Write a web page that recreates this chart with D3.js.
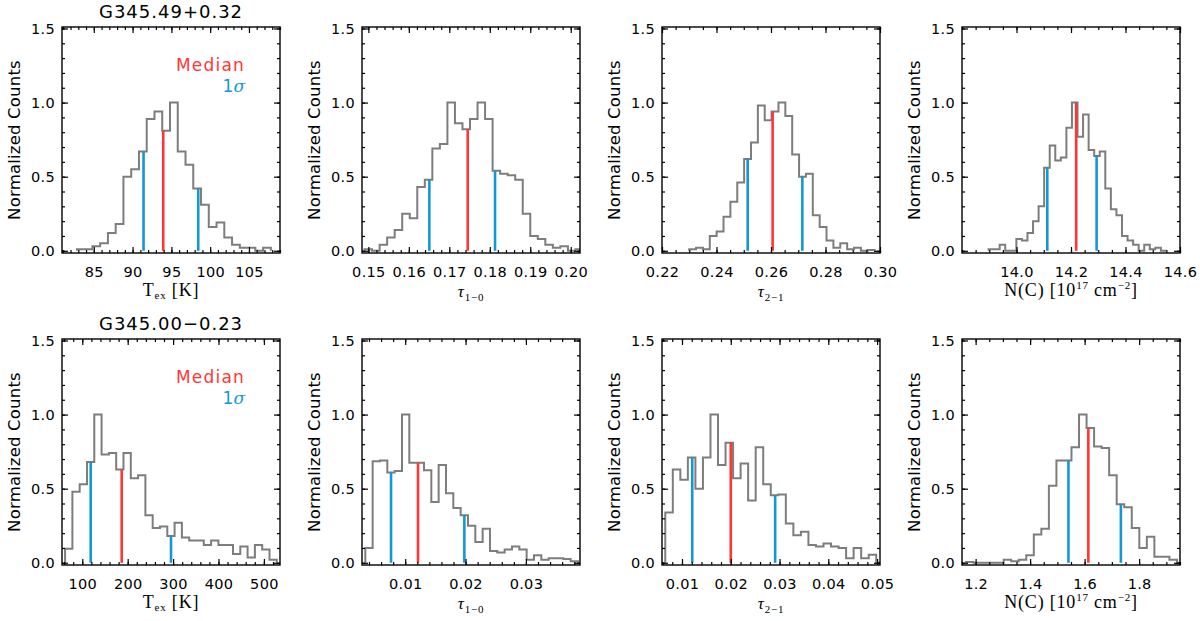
<!DOCTYPE html>
<html>
<head>
<meta charset="utf-8">
<script src="https://cdn.jsdelivr.net/npm/d3@7"></script>
<style>
  body { margin: 0; background: #fff; }
  svg { display: block; }
  .tick text { font-family: "DejaVu Sans", sans-serif; fill: #000; }
  .tick line { stroke: #000; stroke-width: 1.2; }
  .domain { display: none; }
</style>
</head>
<body>
<div id="chart"></div>
<script>
// sources (rows) and parameters (columns)
var sourceNames = ["G345.49+0.32", "G345.00\u22120.23"];

// histogram bins: first edge and width of each panel, rows by source
var binStart = [[82.82, 0.14906, 0.22998, 13.8975], [62.1, 0.00339, 0.00657, 1.1647]];
var binWidth = [[1.0, 0.001861, 0.00252, 0.0204], [16.08, 0.001215, 0.001545, 0.02765]];

// normalized counts
var countsTexA = [0.01, 0.01, 0.03, 0.05, 0.12, 0.18, 0.50, 0.55, 0.67, 0.89, 0.94, 0.81, 1.0,
  0.67, 0.58, 0.42, 0.31, 0.16, 0.19, 0.09, 0.04, 0.02, 0.02, 0.0, 0.02];
var countsTau10A = [0.01, 0.0, 0.04, 0.09, 0.14, 0.25, 0.22, 0.43, 0.48, 0.69, 0.72, 1.0, 0.86,
  0.82, 0.89, 1.0, 0.89, 0.54, 0.52, 0.51, 0.48, 0.25, 0.10, 0.08, 0.04, 0.02, 0.03, 0.0, 0.01];
var countsTau21A = [0.01, 0.02, 0.01, 0.10, 0.13, 0.23, 0.33, 0.46, 0.62, 0.73, 0.98, 0.88, 0.94,
  1.0, 0.91, 0.65, 0.50, 0.52, 0.24, 0.16, 0.07, 0.02, 0.05, 0.01, 0.02, 0.0, 0.005];
var countsNCA = [0.01, 0.01, 0.04, 0.0, 0.0, 0.08, 0.07, 0.12, 0.20, 0.30, 0.56, 0.71, 0.61, 0.63,
  0.83, 1.0, 0.77, 0.92, 0.68, 0.64, 0.67, 0.42, 0.28, 0.24, 0.10, 0.07, 0.04, 0.0, 0.04, 0.01, 0.02, 0.0];
var countsTexB = [0.095, 0.48, 0.53, 0.68, 1.0, 0.73, 0.74, 0.63, 0.74, 0.57, 0.59, 0.32, 0.235,
  0.245, 0.18, 0.27, 0.17, 0.15, 0.15, 0.12, 0.15, 0.12, 0.12, 0.06, 0.11, 0.035, 0.12, 0.09, 0.02];
var countsTau10B = [0.10, 0.685, 0.69, 0.61, 0.62, 1.0, 0.675, 0.675, 0.625, 0.41, 0.66, 0.47, 0.37,
  0.32, 0.25, 0.14, 0.23, 0.08, 0.07, 0.09, 0.11, 0.09, 0.02, 0.05, 0.02, 0.03, 0.03, 0.025, 0.01];
var countsTau21B = [0.34, 0.63, 0.56, 0.71, 0.50, 0.71, 1.0, 0.66, 0.81, 0.57, 0.67, 0.42, 0.78,
  0.53, 0.455, 0.46, 0.265, 0.185, 0.21, 0.12, 0.11, 0.13, 0.11, 0.10, 0.03, 0.10, 0.03, 0.055, 0.0];
var countsNCB = [0.005, 0.0, 0.0, 0.0, 0.0, 0.02, 0.01, 0.02, 0.05, 0.19, 0.23, 0.52, 0.69, 0.69,
  0.78, 1.0, 0.91, 0.785, 0.775, 0.59, 0.395, 0.375, 0.235, 0.10, 0.175, 0.04, 0.04, 0.02, 0.0];
var counts = [[countsTexA, countsTau10A, countsTau21A, countsNCA],
  [countsTexB, countsTau10B, countsTau21B, countsNCB]];

// median and 1 sigma bounds
var medians = [[93.95, 0.17455, 0.2606, 14.219], [186.8, 0.01212, 0.0200, 1.6136]];
var sigmaLow = [[91.41, 0.16507, 0.25144, 14.113], [118.5, 0.00765, 0.0121, 1.5406]];
var sigmaHigh = [[98.46, 0.1813, 0.2715, 14.294], [295.4, 0.0198, 0.0291, 1.733]];

// x ranges and ticks
var xDomains = [[[80.9, 109.0], [0.14843, 0.20229], [0.22, 0.30], [13.8, 14.6]],
  [[55.3, 535.5], [0.00284, 0.03896], [0.0059, 0.0506], [1.15, 1.95]]];
var xTicksTop = [[85, 90, 95, 100, 105], [0.15, 0.16, 0.17, 0.18, 0.19, 0.20],
  [0.22, 0.24, 0.26, 0.28, 0.30], [14.0, 14.2, 14.4, 14.6]];
var xTicksBottom = [[100, 200, 300, 400, 500], [0.01, 0.02, 0.03],
  [0.01, 0.02, 0.03, 0.04, 0.05], [1.2, 1.4, 1.6, 1.8]];
var xTicks = [xTicksTop, xTicksBottom];
var xMinorSteps = [[1, 0.002, 0.005, 0.05], [20, 0.002, 0.002, 0.05]];
var xFormats = [["d", ".2f", ".2f", ".1f"], ["d", ".2f", ".2f", ".1f"]];
var yTicks = [0.0, 0.5, 1.0, 1.5];

var width = 1200, height = 621;
var plotW = 218, plotH = 226;
var left0 = 62, colStep = 300;
var rowTops = [27, 339];
var gray = "#7d7d7d", red = "#ff3636", blue = "#1398d4";

var svg = d3.select("#chart").append("svg")
    .attr("width", width)
    .attr("height", height);

var y = d3.scaleLinear().domain([-0.015, 1.51]).range([plotH, 0]);

var minorValues = function(domain, step) {
  var out = [];
  var k0 = Math.ceil(domain[0] / step - 1e-6);
  for (var k = k0; k * step <= domain[1] + 1e-9; k++) {
    out.push(+(k * step).toFixed(6));
  }
  return out;
};

var drawXLabel = function(g, col) {
  var t = g.append("text")
      .attr("x", plotW / 2)
      .attr("y", plotH + 43)
      .attr("text-anchor", "middle")
      .style("font-family", "'Liberation Serif', 'DejaVu Serif', serif")
      .style("font-size", "18px")
      .style("letter-spacing", "0.8px");
  if (col == 0) {
    t.append("tspan").text("T");
    t.append("tspan").attr("dy", 3).style("font-size", "11px").text("ex");
    t.append("tspan").attr("dy", -3).text(" [K]");
  } else if (col == 3) {
    t.append("tspan").text("N(C) [10");
    t.append("tspan").attr("dy", -7).style("font-size", "11px").text("17");
    t.append("tspan").attr("dy", 7).text(" cm");
    t.append("tspan").attr("dy", -7).style("font-size", "11px").text("\u22122");
    t.append("tspan").attr("dy", 7).text("]");
  } else {
    t.attr("y", plotH + 44).style("font-size", "16px");
    t.append("tspan").style("font-style", "italic").style("font-size", "17px").text("\u03c4");
    t.append("tspan").attr("dy", 4).style("font-size", "11px")
        .text(col == 1 ? "1\u22120" : "2\u22121");
  }
};

sourceNames.forEach(function(name, row) {
  for (var col = 0; col < 4; col++) {
    var g = svg.append("g")
        .attr("transform", "translate(" + (left0 + col * colStep) + "," + rowTops[row] + ")");
    var dom = xDomains[row][col];
    var x = d3.scaleLinear().domain(dom).range([0, plotW]);
    var c = counts[row][col];
    var start = binStart[row][col], w = binWidth[row][col];

    var clipId = "clip" + row + col;
    g.append("clipPath").attr("id", clipId)
      .append("rect").attr("width", plotW).attr("height", plotH);

    // histogram outline
    var pts = [{x: start, v: 0}];
    c.forEach(function(v, i) { pts.push({x: start + i * w, v: v}); });
    pts.push({x: start + c.length * w, v: c[c.length - 1]});
    pts.push({x: start + c.length * w, v: 0});
    var line = d3.line()
        .x(function(d) { return x(d.x); })
        .y(function(d) { return y(d.v); })
        .curve(d3.curveStepAfter);
    g.append("path")
      .attr("clip-path", "url(#" + clipId + ")")
      .attr("d", line(pts))
      .attr("fill", "none")
      .attr("stroke", gray)
      .attr("stroke-width", 2);

    // median and 1 sigma lines, up to the histogram
    var heightAt = function(val) {
      var idx = Math.floor((val - start) / w);
      return c[Math.max(0, Math.min(c.length - 1, idx))];
    };
    var marks = [
      {v: sigmaLow[row][col], color: blue},
      {v: sigmaHigh[row][col], color: blue},
      {v: medians[row][col], color: red}
    ];
    g.selectAll("line.mark")
      .data(marks)
      .enter()
      .append("line")
      .attr("class", "mark")
      .attr("x1", function(d) { return x(d.v); })
      .attr("x2", function(d) { return x(d.v); })
      .attr("y1", y(0))
      .attr("y2", function(d) { return y(heightAt(d.v)); })
      .attr("stroke", function(d) { return d.color; })
      .attr("stroke-width", 2.6);

    // axes, ticks pointing inward on all sides
    var fmt = d3.format(xFormats[row][col]);
    var minorX = minorValues(dom, xMinorSteps[row][col]);
    var minorY = minorValues([0, 1.5], 0.1);

    g.append("g").attr("transform", "translate(0," + plotH + ")")
      .call(d3.axisBottom(x).tickValues(minorX).tickFormat("").tickSize(-3));
    g.append("g").attr("transform", "translate(0," + plotH + ")")
      .call(d3.axisBottom(x).tickValues(xTicks[row][col]).tickFormat(fmt)
          .tickSize(-6).tickPadding(14));
    g.append("g")
      .call(d3.axisTop(x).tickValues(minorX).tickFormat("").tickSize(-3));
    g.append("g")
      .call(d3.axisTop(x).tickValues(xTicks[row][col]).tickFormat("").tickSize(-6));

    g.append("g")
      .call(d3.axisLeft(y).tickValues(minorY).tickFormat("").tickSize(-3));
    g.append("g")
      .call(d3.axisLeft(y).tickValues(yTicks).tickFormat(d3.format(".1f"))
          .tickSize(-6).tickPadding(7));
    g.append("g").attr("transform", "translate(" + plotW + ",0)")
      .call(d3.axisRight(y).tickValues(minorY).tickFormat("").tickSize(-3));
    g.append("g").attr("transform", "translate(" + plotW + ",0)")
      .call(d3.axisRight(y).tickValues(yTicks).tickFormat("").tickSize(-6));

    g.selectAll(".tick text").style("font-size", "14.5px").style("letter-spacing", "0.3px");

    g.append("rect")
      .attr("width", plotW)
      .attr("height", plotH)
      .attr("fill", "none")
      .attr("stroke", "#000")
      .attr("stroke-width", 1.4);

    g.append("text")
      .attr("transform", "translate(-42," + plotH / 2 + ") rotate(-90)")
      .attr("text-anchor", "middle")
      .style("font-family", "'DejaVu Sans', sans-serif")
      .style("font-size", "16.5px")
      .style("letter-spacing", "0.2px")
      .text("Normalized Counts");

    drawXLabel(g, col);

    if (col == 0) {
      g.append("text")
        .attr("x", plotW / 2)
        .attr("y", -9)
        .attr("text-anchor", "middle")
        .style("font-family", "'DejaVu Sans', sans-serif")
        .style("font-size", "18px")
        .style("letter-spacing", "1px")
        .text(name);
      g.append("text")
        .attr("x", 183)
        .attr("y", 44)
        .attr("text-anchor", "end")
        .attr("fill", red)
        .style("font-family", "'DejaVu Sans', sans-serif")
        .style("font-size", "17px")
        .style("letter-spacing", "1.2px")
        .text("Median");
      var s = g.append("text")
        .attr("x", 183)
        .attr("y", 65)
        .attr("text-anchor", "end")
        .attr("fill", blue)
        .style("font-family", "'DejaVu Sans', sans-serif")
        .style("font-size", "17px");
      s.append("tspan").text("1");
      s.append("tspan").style("font-style", "italic")
        .style("font-family", "'DejaVu Serif', serif").text("\u03c3");
    }
  }
});
</script>
</body>
</html>
